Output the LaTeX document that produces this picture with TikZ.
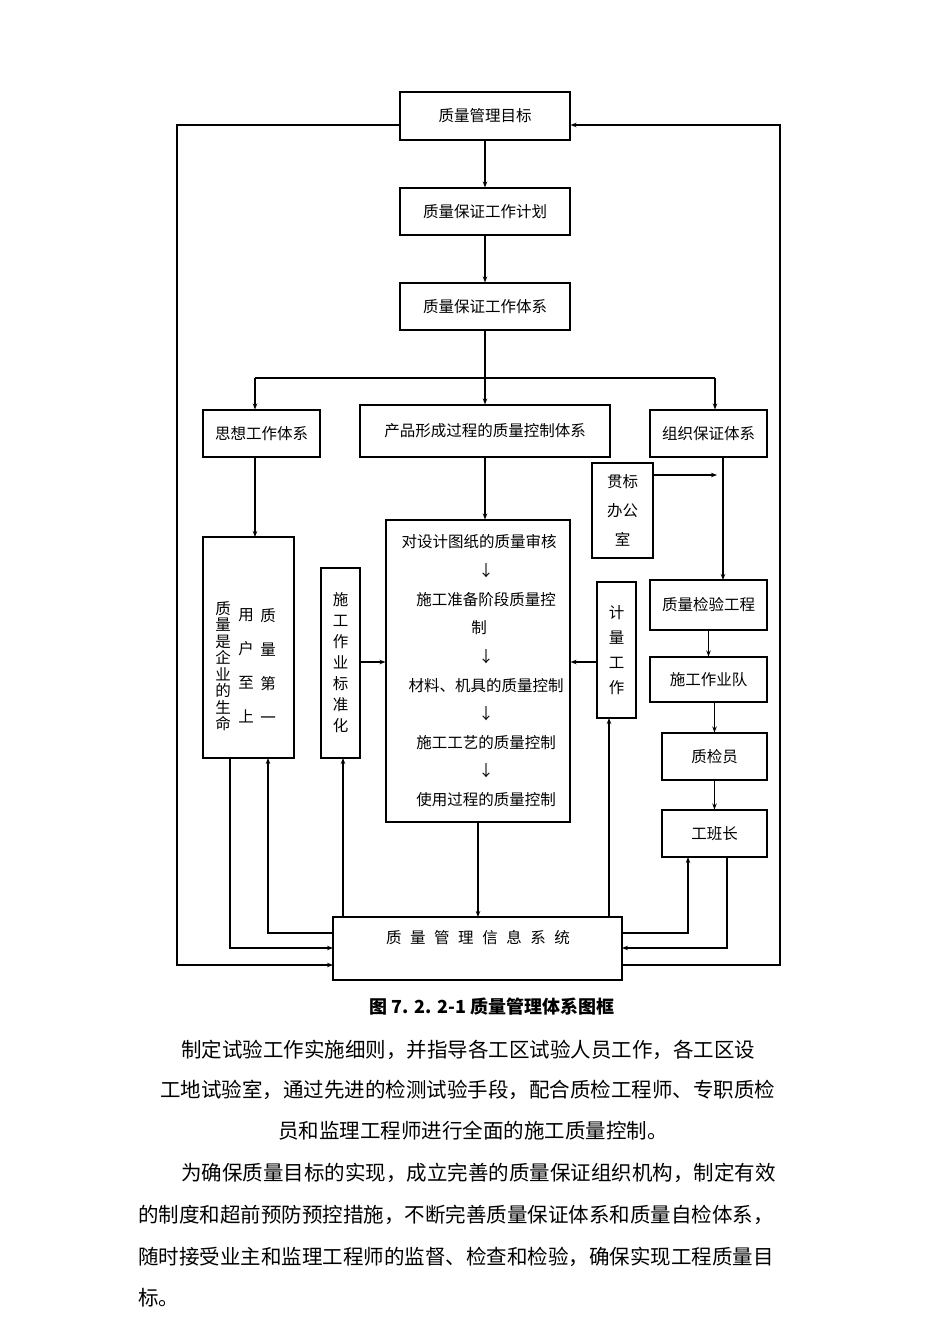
\documentclass[tikz,border=0pt]{standalone}
\usepackage{fontspec}
\setmainfont{Noto Sans CJK SC}
\usetikzlibrary{arrows.meta}
\begin{document}
\begin{tikzpicture}[x=1pt,y=-1pt,
  bx/.style={draw,line width=1.1pt,inner sep=0pt,font=\fontsize{15.5}{18}\selectfont},
  ar/.style={-{Stealth[length=6pt,width=4.5pt]},line width=1.1pt},
  ln/.style={line width=1.1pt},
  tx/.style={font=\fontsize{15.5}{18}\selectfont,inner sep=0pt},
  para/.style={font=\fontsize{20.5}{24}\selectfont,anchor=west,inner sep=0pt}]
\fill[white] (0,0) rectangle (950,1344);
\useasboundingbox (0,0) rectangle (950,1344);
% boxes
\node[bx,minimum width=170,minimum height=48] (goal) at (485,116) {质量管理目标};
\node[bx,minimum width=170,minimum height=47] (plan) at (485,211.5) {质量保证工作计划};
\node[bx,minimum width=170,minimum height=47] (sys) at (485,306.5) {质量保证工作体系};
\node[bx,minimum width=117,minimum height=47] (sx) at (261.5,433.5) {思想工作体系};
\node[bx,minimum width=250,minimum height=52] (cp) at (485,431) {产品形成过程的质量控制体系};
\node[bx,minimum width=117,minimum height=47] (zz) at (708.5,433.5) {组织保证体系};
\node[bx,minimum width=61,minimum height=95,align=center,font=\fontsize{15.5}{29}\selectfont] (gb) at (622.5,510.5) {贯标\\办公\\室};
\node[bx,minimum width=91,minimum height=221] (lb) at (248.5,647.5) {};
\node[tx,align=center,font=\fontsize{15.5}{34}\selectfont] (c1) at (268,666) {质\\量\\第\\一};
\node[tx,align=center,font=\fontsize{15.5}{34}\selectfont] (c2) at (246,666) {用\\户\\至\\上};
\node[tx,align=center,font=\fontsize{15.5}{16.5}\selectfont] (c3) at (223,666) {质\\量\\是\\企\\业\\的\\生\\命};
\node[bx,minimum width=39,minimum height=190,align=center,font=\fontsize{15.5}{21}\selectfont] (bz) at (340.5,663) {施\\工\\作\\业\\标\\准\\化};
\node[bx,minimum width=184,minimum height=302] (cb) at (478,671) {};
\node[tx] (t1) at (479,542) {对设计图纸的质量审核};
\node[tx] (a1) at (486,571) {↓};
\node[tx] (t2) at (486,600) {施工准备阶段质量控};
\node[tx] (t2b) at (479,628) {制};
\node[tx] (a2) at (486,657) {↓};
\node[tx] (t3) at (486,686) {材料、机具的质量控制};
\node[tx] (a3) at (486,714) {↓};
\node[tx] (t4) at (486,743) {施工工艺的质量控制};
\node[tx] (a4) at (486,771) {↓};
\node[tx] (t5) at (486,800) {使用过程的质量控制};
\node[bx,minimum width=39,minimum height=136,align=center,font=\fontsize{15.5}{25}\selectfont] (jl) at (616.5,650) {计\\量\\工\\作};
\node[bx,minimum width=117,minimum height=50] (jy) at (708.5,605) {质量检验工程};
\node[bx,minimum width=117,minimum height=45] (dw) at (708.5,679.5) {施工作业队};
\node[bx,minimum width=105,minimum height=47] (zj) at (714.5,756.5) {质检员};
\node[bx,minimum width=105,minimum height=47] (gz) at (714.5,833.5) {工班长};
\node[bx,minimum width=289,minimum height=63] (info) at (477.5,948.5) {};
\node[tx] (infot) at (478,938) {质\hspace{0.55em}量\hspace{0.55em}管\hspace{0.55em}理\hspace{0.55em}信\hspace{0.55em}息\hspace{0.55em}系\hspace{0.55em}统};
% connectors
\draw[ar] (goal) -- (plan);
\draw[ar] (plan) -- (sys);
\draw[ar] (sys) -- (cp);
\coordinate (bl) at (255,378); \coordinate (br) at (715,378);
\draw[ln] (bl) -- (br);
\draw[ar] (bl) -- (bl|-sx.north);
\draw[ar] (br) -- (br|-zz.north);
\draw[ar] (255,457) -- (255,537);
\draw[ar] (cp.south) -- (cb.north-|cp.south);
\draw[ar] (723,457) -- (723,580);
\draw[ar] (gb.east|-0,475) -- (717,475);
\draw[ar] (jy) -- (jy.south|-dw.north);
\draw[ar] (dw.south-|zj) -- (zj);
\draw[ar] (zj) -- (gz);
\draw[ar] (bz.east|-0,662) -- (cb.west|-0,662);
\draw[ar] (jl.west|-0,662) -- (cb.east|-0,662);
\draw[ar] (478,822) -- (478,917);
\draw[ar] (343,917) -- (343,758);
\draw[ar] (609,917) -- (609,718);
\draw[ar] (230,758) -- (230,948) -- (333,948);
\draw[ar] (333,933) -- (268,933) -- (268,758);
\draw[ar] (622,933) -- (688,933) -- (688,857);
\draw[ar] (727,857) -- (727,948) -- (622,948);
\draw[ar] (goal.west|-0,125) -- (177,125) -- (177,965) -- (333,965);
\draw[ar] (622,965) -- (780,965) -- (780,125) -- (goal.east|-0,125);
% caption and text
\node[font=\fontsize{18}{20}\selectfont\bfseries,inner sep=0pt] (cap) at (492,1007) {图 7. 2. 2-1 质量管理体系图框};
\node[para] (p1) at (181,1050) {制定试验工作实施细则，并指导各工区试验人员工作，各工区设};
\node[para] (p2) at (160,1090) {工地试验室，通过先进的检测试验手段，配合质检工程师、专职质检};
\node[para] (p3) at (278,1131) {员和监理工程师进行全面的施工质量控制。};
\node[para] (p4) at (181,1173) {为确保质量目标的实现，成立完善的质量保证组织机构，制定有效};
\node[para] (p5) at (138,1215) {的制度和超前预防预控措施，不断完善质量保证体系和质量自检体系，};
\node[para] (p6) at (138,1257) {随时接受业主和监理工程师的监督、检查和检验，确保实现工程质量目};
\node[para] (p7) at (138,1298) {标。};
\end{tikzpicture}
\end{document}
